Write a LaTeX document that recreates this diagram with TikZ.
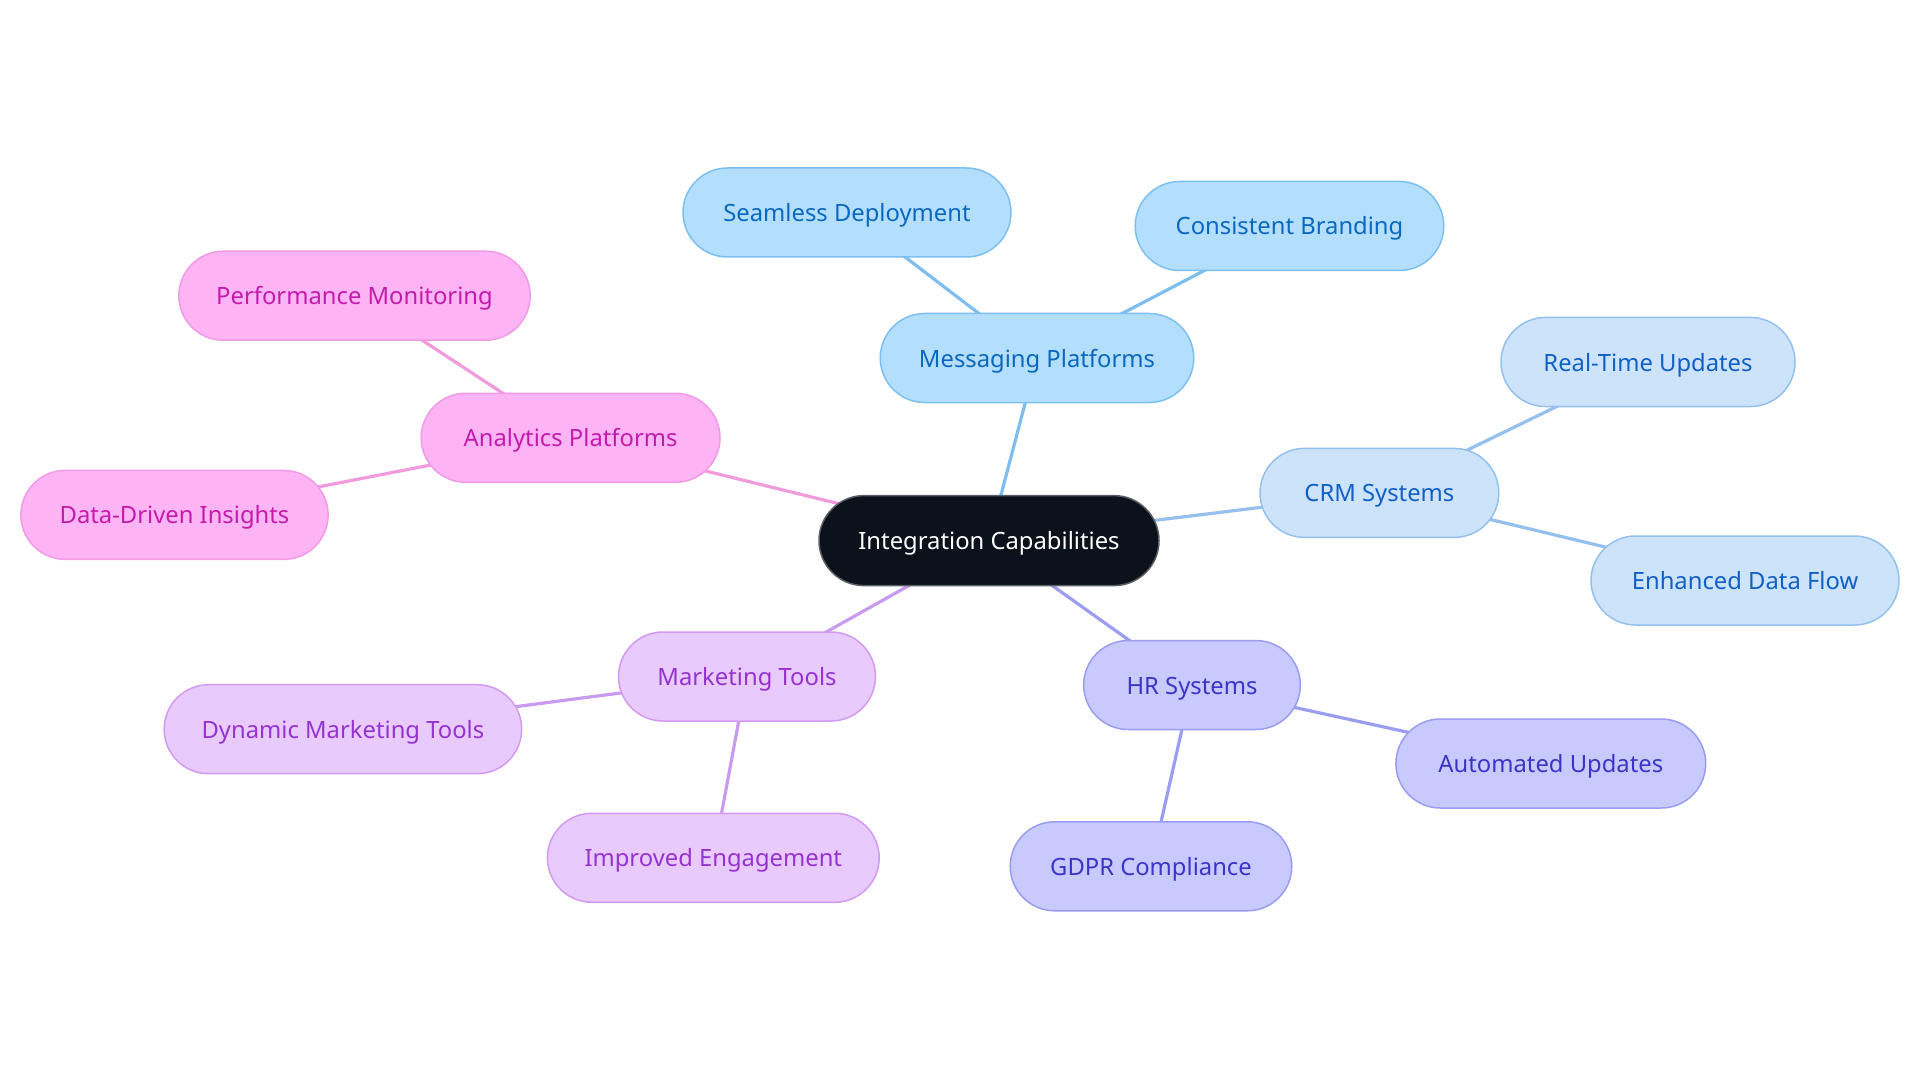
\documentclass[tikz,border=0pt]{standalone}
\usepackage{fontspec}
\setmainfont{Noto Sans}
\usetikzlibrary{backgrounds}
\definecolor{cfill}{HTML}{0C121C}
\definecolor{cdraw}{HTML}{5A5E66}
\definecolor{mfill}{HTML}{B3DFFC}
\definecolor{mdraw}{HTML}{7CC0F2}
\definecolor{mtext}{HTML}{0B68C0}
\definecolor{medge}{HTML}{7DBEEE}
\definecolor{rfill}{HTML}{CDE3FA}
\definecolor{rdraw}{HTML}{94C0EE}
\definecolor{rtext}{HTML}{1160C8}
\definecolor{redge}{HTML}{94BFEE}
\definecolor{hfill}{HTML}{C8CAFD}
\definecolor{hdraw}{HTML}{9A9CF2}
\definecolor{htext}{HTML}{3A35C8}
\definecolor{hedge}{HTML}{9B9DF3}
\definecolor{kfill}{HTML}{E8CAFC}
\definecolor{kdraw}{HTML}{D29AF2}
\definecolor{ktext}{HTML}{9633D0}
\definecolor{kedge}{HTML}{C99BEE}
\definecolor{afill}{HTML}{FDB4F4}
\definecolor{adraw}{HTML}{F29AE4}
\definecolor{atext}{HTML}{C51BAD}
\definecolor{aedge}{HTML}{F19BDC}
\tikzset{
  pill/.style={rectangle, rounded corners=44.5pt, minimum height=89pt, line width=1.5pt, inner sep=0pt, text height=21pt, text depth=3pt, font=\fontsize{23.8}{28}\selectfont},
  central/.style={pill, fill=cfill, draw=cdraw, text=white, minimum height=90pt, rounded corners=45pt},
  msg/.style={pill, fill=mfill, draw=mdraw, text=mtext},
  crm/.style={pill, fill=rfill, draw=rdraw, text=rtext},
  hrs/.style={pill, fill=hfill, draw=hdraw, text=htext},
  mkt/.style={pill, fill=kfill, draw=kdraw, text=ktext},
  ana/.style={pill, fill=afill, draw=adraw, text=atext},
  link/.style={line width=3.2pt}
}
\begin{document}
\begin{tikzpicture}[x=1pt,y=-1pt]
\useasboundingbox (0,0) rectangle (1920,1083);
\node[central, minimum width=340pt] (ic) at (989,540.6) {Integration Capabilities};
\node[msg, minimum width=313.5pt] (mp) at (1037,358) {Messaging Platforms};
\node[msg, minimum width=328pt] (sd) at (847,212.5) {Seamless Deployment};
\node[msg, minimum width=308.6pt] (cb) at (1289.5,226) {Consistent Branding};
\node[crm, minimum width=238.8pt] (crm) at (1379.4,492.9) {CRM Systems};
\node[crm, minimum width=294pt] (rt) at (1648,362) {Real-Time Updates};
\node[crm, minimum width=308pt] (ed) at (1745,580.5) {Enhanced Data Flow};
\node[hrs, minimum width=216.7pt] (hr) at (1192,685) {HR Systems};
\node[hrs, minimum width=309.8pt] (au) at (1550.8,763.5) {Automated Updates};
\node[hrs, minimum width=281.6pt] (gd) at (1151,866.3) {GDPR Compliance};
\node[mkt, minimum width=257pt] (mt) at (747,676.5) {Marketing Tools};
\node[mkt, minimum width=357.5pt] (dm) at (342.9,729.2) {Dynamic Marketing Tools};
\node[mkt, minimum width=331.8pt] (ie) at (713.3,857.8) {Improved Engagement};
\node[ana, minimum width=298.8pt] (ap) at (570.6,437.8) {Analytics Platforms};
\node[ana, minimum width=351.4pt] (pm) at (354.5,295.7) {Performance Monitoring};
\node[ana, minimum width=307.3pt] (dd) at (174.5,514.9) {Data-Driven Insights};
\begin{scope}[on background layer]
\draw[link, medge] (ic.center) -- (mp.center);
\draw[link, medge] (mp.center) -- (sd.center);
\draw[link, medge] (mp.center) -- (cb.center);
\draw[link, redge] (ic.center) -- (crm.center);
\draw[link, redge] (crm.center) -- (rt.center);
\draw[link, redge] (crm.center) -- (ed.center);
\draw[link, hedge] (ic.center) -- (hr.center);
\draw[link, hedge] (hr.center) -- (au.center);
\draw[link, hedge] (hr.center) -- (gd.center);
\draw[link, kedge] (ic.center) -- (mt.center);
\draw[link, kedge] (mt.center) -- (dm.center);
\draw[link, kedge] (mt.center) -- (ie.center);
\draw[link, aedge] (ic.center) -- (ap.center);
\draw[link, aedge] (ap.center) -- (pm.center);
\draw[link, aedge] (ap.center) -- (dd.center);
\end{scope}
\end{tikzpicture}
\end{document}
